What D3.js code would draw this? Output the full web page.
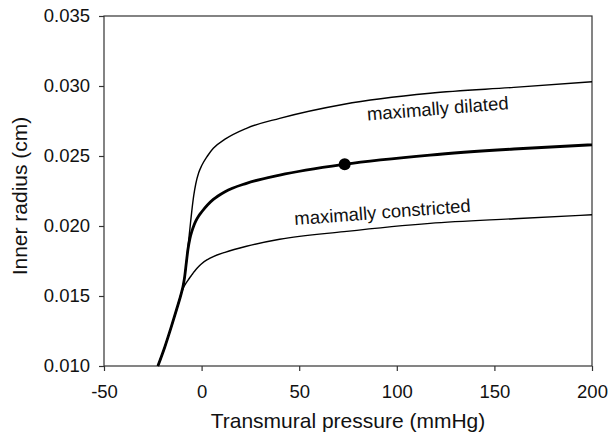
<!DOCTYPE html>
<html>
<head>
<meta charset="utf-8">
<script src="https://cdn.jsdelivr.net/npm/d3@7"></script>
<style>
  html, body { margin: 0; padding: 0; background: #fff; }
  svg { display: block; }
  text { font-family: "Liberation Sans", Arial, Helvetica, sans-serif; fill: #111; }
</style>
</head>
<body>
<div id="chart"></div>
<script>
// Transmural pressure (mmHg) grid shared by the three curves
const pressure = [-22.4, -18.8, -15.5, -12.9, -10.4, -9.5, -8.7, -7.8, -7, -6, -5, -4, -3, -1.5, 0, 3, 6, 12, 23, 40, 73, 117, 160, 200];

// Inner radius (cm) at each pressure
const radiusDilated =     [0.0100, 0.01138, 0.01281, 0.0140, 0.01519, 0.0157, 0.01635, 0.0174, 0.0185, 0.0198, 0.0211, 0.0222, 0.0230, 0.0238, 0.0243, 0.0250, 0.02555, 0.0262, 0.02698, 0.02769, 0.0287, 0.02948, 0.0299, 0.0303];
const radiusActive =      [0.0100, 0.01138, 0.01281, 0.0140, 0.01519, 0.0157, 0.01635, 0.0174, 0.01832, 0.0191, 0.01962, 0.02002, 0.02035, 0.02072, 0.0210, 0.0215, 0.0219, 0.02245, 0.02305, 0.02364, 0.02441, 0.02507, 0.0255, 0.0258];
const radiusConstricted = [0.0100, 0.01138, 0.01281, 0.0140, 0.01519, 0.01552, 0.01575, 0.01595, 0.01612, 0.01632, 0.01651, 0.0167, 0.01688, 0.01711, 0.01731, 0.0176, 0.01782, 0.01812, 0.01855, 0.01905, 0.0196, 0.02019, 0.02052, 0.0208];

// Operating point on the active curve
const operatingPoint = { p: 73.3, r: 0.02441 };

const xTicks = [-50, 0, 50, 100, 150, 200];
const yTicks = [0.010, 0.015, 0.020, 0.025, 0.030, 0.035];

const curveLabels = [
  { text: "maximally dilated", p: 121.2, r: 0.02794, angle: -4.6 },
  { text: "maximally constricted", p: 92.9, r: 0.02054, angle: -4.3 }
];

const W = 609, H = 438;
const margin = { top: 16, right: 17, bottom: 72, left: 104 };
const innerW = W - margin.left - margin.right;
const innerH = H - margin.top - margin.bottom;

const svg = d3.select("#chart").append("svg")
  .attr("width", W).attr("height", H);

const g = svg.append("g").attr("transform", `translate(${margin.left},${margin.top})`);

const x = d3.scaleLinear().domain([-50, 200]).range([0, innerW]);
const y = d3.scaleLinear().domain([0.010, 0.035]).range([innerH, 0]);

// Axes (plain hyphen for negative tick labels)
const axisColor = "#333";
const yAxis = g.append("g")
  .call(d3.axisLeft(y).tickValues(yTicks).tickFormat(d3.format(".3f")).tickSize(5).tickPadding(9));
const xAxis = g.append("g").attr("transform", `translate(0,${innerH})`)
  .call(d3.axisBottom(x).tickValues(xTicks).tickFormat(d => String(d)).tickSize(5).tickPadding(14));

[yAxis, xAxis].forEach(a => {
  a.select(".domain").remove();
  a.selectAll(".tick line").attr("stroke", axisColor).attr("stroke-width", 1.2);
  a.selectAll(".tick text").style("font-size", "18.5px").attr("fill", "#111");
});

// Frame around the plotting area
g.append("rect")
  .attr("x", 0).attr("y", 0).attr("width", innerW).attr("height", innerH)
  .attr("fill", "none").attr("stroke", axisColor).attr("stroke-width", 1.2);

// Curves
const line = d3.line().x(d => x(d[0])).y(d => y(d[1])).curve(d3.curveMonotoneX);
const series = [
  { values: radiusDilated, width: 1.4 },
  { values: radiusConstricted, width: 1.4 },
  { values: radiusActive, width: 2.8 }
];
series.forEach(s => {
  g.append("path")
    .datum(pressure.map((p, i) => [p, s.values[i]]))
    .attr("d", line)
    .attr("fill", "none")
    .attr("stroke", "#000")
    .attr("stroke-width", s.width)
    .attr("stroke-linejoin", "round");
});

g.append("circle")
  .attr("cx", x(operatingPoint.p)).attr("cy", y(operatingPoint.r))
  .attr("r", 6).attr("fill", "#000");

// Curve labels
curveLabels.forEach(l => {
  g.append("text")
    .attr("transform", `translate(${x(l.p)},${y(l.r)}) rotate(${l.angle})`)
    .attr("text-anchor", "middle")
    .style("font-size", "18.5px")
    .text(l.text);
});

// Axis titles
svg.append("text")
  .attr("x", margin.left + innerW / 2).attr("y", 428)
  .attr("text-anchor", "middle")
  .style("font-size", "21px")
  .text("Transmural pressure (mmHg)");

svg.append("text")
  .attr("transform", `translate(27,${margin.top + innerH / 2 + 5}) rotate(-90)`)
  .attr("text-anchor", "middle")
  .style("font-size", "21px")
  .text("Inner radius (cm)");
</script>
</body>
</html>
